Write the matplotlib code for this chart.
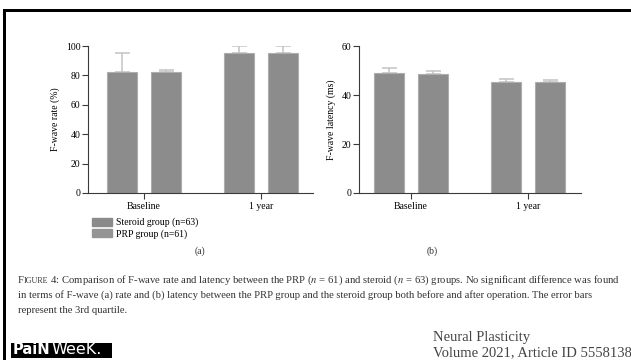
import numpy as np
import matplotlib
matplotlib.use('Agg')
import matplotlib.pyplot as plt
from matplotlib.patches import Rectangle, Patch

plt.rcParams['font.family'] = 'Liberation Serif'
plt.rcParams['mathtext.fontset'] = 'stix'

# data
groups = ['Baseline', '1 year']
legend_labels = ['Steroid group (n=63)', 'PRP group (n=61)']

rate_steroid = [82, 95]
rate_steroid_q3 = [95, 100]
rate_prp = [82, 95]
rate_prp_q3 = [84, 100]

lat_steroid = [49.0, 45.3]
lat_steroid_q3 = [50.9, 46.4]
lat_prp = [48.7, 45.2]
lat_prp_q3 = [49.8, 46.3]

bar_col = '#8c8c8c'
edge_col = '#adadad'
err_col = '#c4c4c4'
axis_col = '#3a3a3a'

fig = plt.figure(figsize=(6.31, 3.6), dpi=100)

def panel(rect, s, s_q3, p, p_q3, ylim, yticks, ylabel, xlim):
    ax = fig.add_axes(rect)
    x = np.arange(len(groups))
    off = 0.19
    w = 0.255
    for xs, vals, q3 in [(x - off, s, s_q3), (x + off, p, p_q3)]:
        vals = np.array(vals)
        up = np.array(q3) - vals
        ax.bar(xs, vals, width=w, color=bar_col, edgecolor=edge_col, linewidth=0.8, zorder=2)
        ax.errorbar(xs, vals, yerr=[np.zeros_like(up), up], fmt='none', ecolor=err_col,
                    elinewidth=1.1, capsize=5.4, capthick=1.1, zorder=1)
    ax.set_xlim(xlim)
    ax.set_ylim(ylim)
    ax.set_yticks(yticks)
    ax.set_xticks(x)
    ax.set_xticklabels(groups, fontsize=7)
    ax.tick_params(axis='y', labelsize=7, length=4, width=0.8, color=axis_col, pad=1.5)
    ax.tick_params(axis='x', length=4, width=0.8, color=axis_col, pad=2.5)
    for sp in ['top', 'right']:
        ax.spines[sp].set_visible(False)
    for sp in ['left', 'bottom']:
        ax.spines[sp].set_color(axis_col)
        ax.spines[sp].set_linewidth(0.8)
    ax.set_ylabel(ylabel, fontsize=7, labelpad=4)
    return ax

ax1 = panel([0.1395, 0.4639, 0.3566, 0.4083], rate_steroid, rate_steroid_q3, rate_prp, rate_prp_q3,
            (0, 100), [0, 20, 40, 60, 80, 100], 'F-wave rate (%)', (-0.479, 1.444))
ax2 = panel([0.569, 0.4639, 0.3518, 0.4083], lat_steroid, lat_steroid_q3, lat_prp, lat_prp_q3,
            (0, 60), [0, 20, 40, 60], 'F-wave latency (ms)', (-0.444, 1.453))

handles = [Patch(facecolor='#8a8a8a', edgecolor='#8a8a8a'), Patch(facecolor='#949494', edgecolor='#949494')]
fig.legend(handles, legend_labels, loc='upper left', bbox_to_anchor=(0.146, 0.395), frameon=False,
           fontsize=7, handlelength=2.0, handleheight=0.9, handletextpad=0.5, labelspacing=0.2,
           borderaxespad=0, borderpad=0)

fig.text(200 / 631, 1 - 251 / 360, '(a)', fontsize=7, ha='center', va='center', color='#333333')
fig.text(432 / 631, 1 - 251 / 360, '(b)', fontsize=7, ha='center', va='center', color='#333333')

# black frame on top and left
fig.add_artist(Rectangle((3 / 631, 0), 3 / 631, 1 - 8.5 / 360, transform=fig.transFigure,
                         facecolor='black', edgecolor='none'))
fig.add_artist(Rectangle((3 / 631, 1 - 11.5 / 360), 1, 3 / 360, transform=fig.transFigure,
                         facecolor='black', edgecolor='none'))

# caption
cap = '#333333'
cs = 7.7
t = fig.text(18 / 631, 1 - 283 / 360, 'F', fontsize=cs, color=cap, va='baseline')
t2 = fig.text(0, 0, 'IGURE', fontsize=cs * 0.75, color=cap, va='baseline')
fig.canvas.draw()
r = fig.canvas.get_renderer()
bb = t.get_window_extent(r)
t2.set_position((bb.x1 / fig.bbox.width, 1 - 283 / 360))
bb2 = t2.get_window_extent(r)
fig.text(bb2.x1 / fig.bbox.width, 1 - 283 / 360,
         ' 4: Comparison of F-wave rate and latency between the PRP ($n$ = 61) and steroid ($n$ = 63) groups. No significant difference was found',
         fontsize=cs, color=cap, va='baseline')
fig.text(18 / 631, 1 - 298 / 360,
         'in terms of F-wave (a) rate and (b) latency between the PRP group and the steroid group both before and after operation. The error bars',
         fontsize=cs, color=cap, va='baseline')
fig.text(18 / 631, 1 - 313 / 360, 'represent the 3rd quartile.', fontsize=cs, color=cap, va='baseline')

# journal info
fig.text(433 / 631, 1 - 340.5 / 360, 'Neural Plasticity', fontsize=10.5, color='#444444', va='baseline')
fig.text(433 / 631, 1 - 356.5 / 360, 'Volume 2021, Article ID 5558138', fontsize=10.5, color='#444444', va='baseline')

# logo
fig.add_artist(Rectangle((11 / 631, 1 - 358 / 360), 101 / 631, 15 / 360, transform=fig.transFigure,
                         facecolor='black', edgecolor='none'))
lg = fig.text(13 / 631, 1 - 354.5 / 360, 'PaiN', fontsize=10.5, color='white', fontweight='heavy',
              family='DejaVu Sans', va='baseline')
bbl = lg.get_window_extent(r)
fig.text(bbl.x1 / fig.bbox.width + 0.002, 1 - 354.5 / 360, 'WeeK.', fontsize=11.5, color='white',
         fontweight='normal', family='DejaVu Sans', va='baseline')

fig.savefig('out.png', dpi=100)
